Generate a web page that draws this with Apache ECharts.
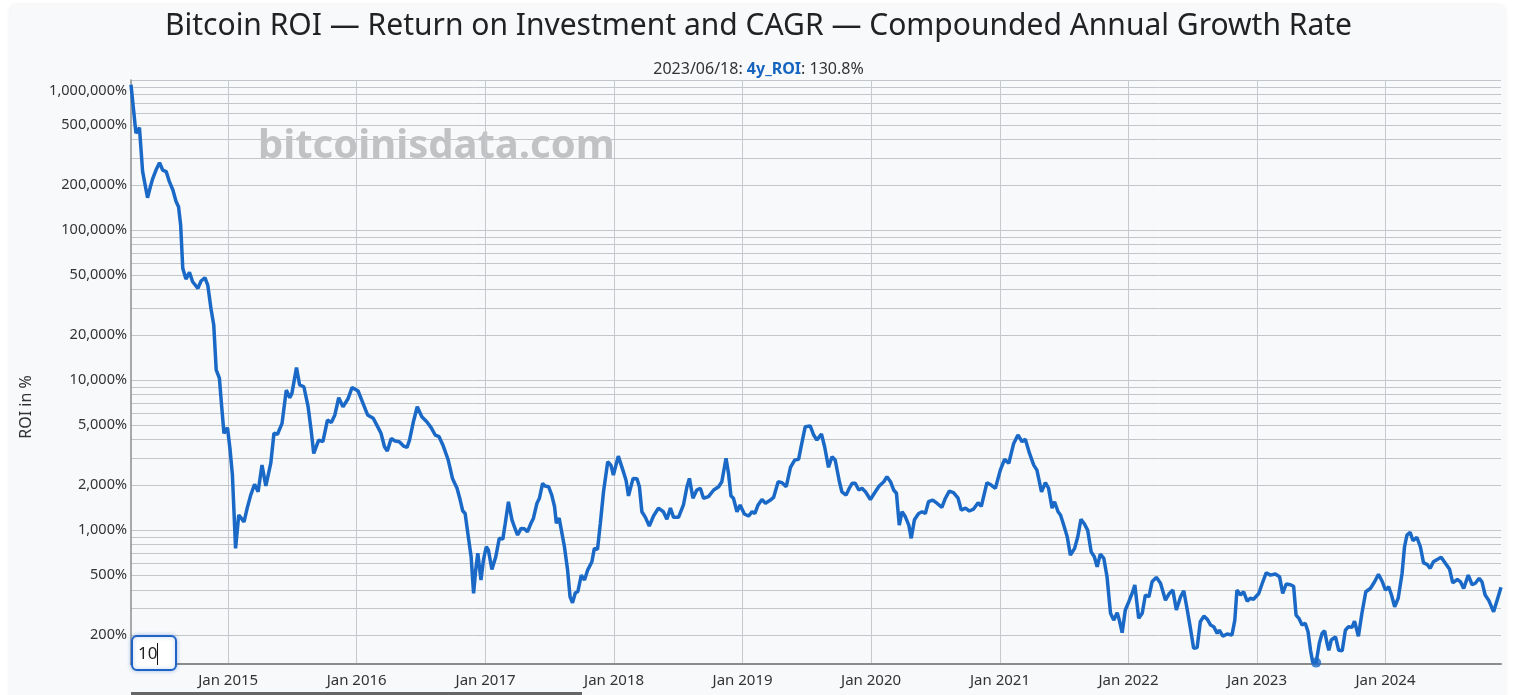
<!doctype html>
<html>
<head>
<meta charset="utf-8">
<title>Bitcoin ROI</title>
<script src="https://cdn.jsdelivr.net/npm/echarts@6/dist/echarts.min.js"></script>
<style>
html,body{margin:0;padding:0;background:#fff;}
#chart{width:1517px;height:695px;}
</style>
</head>
<body>
<div id="chart"></div>
<script>
// 4 year ROI (%)
var dates = [
'2014-03-31','2014-04-14','2014-04-24','2014-05-03','2014-05-17','2014-05-25','2014-06-01','2014-06-10','2014-06-20','2014-06-29',
'2014-07-09','2014-07-18','2014-07-28','2014-08-06','2014-08-13','2014-08-19','2014-08-25','2014-09-03','2014-09-13','2014-09-22',
'2014-10-07','2014-10-16','2014-10-27','2014-11-04','2014-11-13','2014-11-21','2014-11-28','2014-12-07','2014-12-14','2014-12-20',
'2014-12-30','2015-01-06','2015-01-13','2015-01-22','2015-01-31','2015-02-07','2015-02-15','2015-02-24','2015-03-06','2015-03-17',
'2015-03-27','2015-04-07','2015-04-18','2015-05-02','2015-05-11','2015-05-21','2015-06-03','2015-06-15','2015-06-25','2015-07-01',
'2015-07-14','2015-07-23','2015-08-04','2015-08-16','2015-08-24','2015-09-01','2015-09-15','2015-09-27','2015-10-10','2015-10-21',
'2015-10-31','2015-11-11','2015-11-23','2015-12-07','2015-12-19','2016-01-05','2016-01-19','2016-02-01','2016-02-17','2016-03-03',
'2016-03-10','2016-03-20','2016-03-28','2016-04-08','2016-04-19','2016-05-01','2016-05-13','2016-05-23','2016-05-30','2016-06-10',
'2016-06-21','2016-07-04','2016-07-18','2016-07-30','2016-08-11','2016-08-22','2016-09-03','2016-09-17','2016-09-29','2016-10-12',
'2016-10-21','2016-10-28','2016-11-04','2016-11-13','2016-11-21','2016-11-28','2016-12-04','2016-12-10','2016-12-19','2016-12-26',
'2017-01-03','2017-01-09','2017-01-19','2017-01-30','2017-02-09','2017-02-19','2017-02-26','2017-03-07','2017-03-17','2017-03-24',
'2017-04-02','2017-04-12','2017-04-21','2017-04-30','2017-05-10','2017-05-17','2017-05-27','2017-06-03','2017-06-12','2017-06-19',
'2017-06-29','2017-07-08','2017-07-16','2017-07-21','2017-07-29','2017-08-06','2017-08-13','2017-08-22','2017-08-29','2017-09-05',
'2017-09-13','2017-09-20','2017-09-30','2017-10-09','2017-10-18','2017-10-30','2017-11-06','2017-11-15','2017-11-23','2017-12-02',
'2017-12-14','2017-12-23','2017-12-30','2018-01-13','2018-01-26','2018-02-04','2018-02-11','2018-02-16','2018-02-24','2018-03-07',
'2018-03-14','2018-03-21','2018-03-31','2018-04-11','2018-04-23','2018-05-07','2018-05-21','2018-05-31','2018-06-10','2018-06-19',
'2018-07-03','2018-07-17','2018-07-27','2018-08-03','2018-08-13','2018-08-24','2018-09-03','2018-09-12','2018-09-26','2018-10-11',
'2018-10-25','2018-11-03','2018-11-15','2018-11-22','2018-11-29','2018-12-06','2018-12-16','2018-12-25','2019-01-06','2019-01-18',
'2019-01-28','2019-02-05','2019-02-14','2019-02-25','2019-03-07','2019-03-21','2019-03-30','2019-04-12','2019-04-23','2019-05-05',
'2019-05-17','2019-05-29','2019-06-09','2019-06-21','2019-06-28','2019-07-12','2019-07-22','2019-07-31','2019-08-13','2019-08-22',
'2019-09-02','2019-09-12','2019-09-21','2019-10-03','2019-10-10','2019-10-22','2019-10-31','2019-11-08','2019-11-17','2019-11-27',
'2019-12-06','2019-12-16','2019-12-30','2020-01-13','2020-01-24','2020-02-06','2020-02-15','2020-02-25','2020-03-05','2020-03-13',
'2020-03-21','2020-03-29','2020-04-07','2020-04-17','2020-04-24','2020-05-03','2020-05-15','2020-05-25','2020-06-03','2020-06-12',
'2020-06-24','2020-07-06','2020-07-20','2020-07-30','2020-08-10','2020-08-22','2020-09-04','2020-09-13','2020-09-25','2020-10-06',
'2020-10-18','2020-10-31','2020-11-09','2020-11-25','2020-12-07','2020-12-19','2021-01-02','2021-01-14','2021-01-26','2021-02-09',
'2021-02-21','2021-03-05','2021-03-14','2021-03-26','2021-04-07','2021-04-16','2021-04-29','2021-05-10','2021-05-19','2021-05-29',
'2021-06-05','2021-06-15','2021-06-22','2021-07-01','2021-07-11','2021-07-20','2021-08-01','2021-08-10','2021-08-19','2021-08-29',
'2021-09-07','2021-09-17','2021-09-26','2021-10-04','2021-10-13','2021-10-23','2021-11-01','2021-11-11','2021-11-20','2021-11-30',
'2021-12-06','2021-12-14','2021-12-23','2022-01-02','2022-01-13','2022-01-19','2022-01-30','2022-02-09','2022-02-18','2022-02-28',
'2022-03-09','2022-03-21','2022-04-02','2022-04-16','2022-04-27','2022-05-07','2022-05-17','2022-05-29','2022-06-07','2022-06-17',
'2022-06-26','2022-07-05','2022-07-15','2022-07-24','2022-08-03','2022-08-13','2022-08-22','2022-08-31','2022-09-10','2022-09-16',
'2022-09-26','2022-10-08','2022-10-22','2022-10-30','2022-11-05','2022-11-15','2022-11-24','2022-12-04','2022-12-13','2022-12-22',
'2023-01-06','2023-01-16','2023-01-27','2023-02-08','2023-02-22','2023-03-06','2023-03-15','2023-03-25','2023-04-06','2023-04-15',
'2023-04-22','2023-04-30','2023-05-09','2023-05-18','2023-05-26','2023-06-02','2023-06-08','2023-06-18','2023-06-27','2023-07-05',
'2023-07-12','2023-07-19','2023-07-24','2023-07-31','2023-08-12','2023-08-21','2023-08-31','2023-09-09','2023-09-18','2023-09-28',
'2023-10-05','2023-10-16','2023-10-26','2023-11-06','2023-11-19','2023-12-01','2023-12-12','2023-12-23','2024-01-01','2024-01-10',
'2024-01-18','2024-01-27','2024-02-06','2024-02-17','2024-02-24','2024-03-02','2024-03-11','2024-03-19','2024-03-30','2024-04-09',
'2024-04-18','2024-04-28','2024-05-07','2024-05-16','2024-05-28','2024-06-07','2024-06-19','2024-07-01','2024-07-10','2024-07-23',
'2024-08-01','2024-08-10','2024-08-23','2024-09-03','2024-09-12','2024-09-23','2024-10-01','2024-10-10','2024-10-20','2024-11-03',
'2024-11-13','2024-11-24'
];
var roi = [
930000,442000,481000,245000,164000,194000,221000,251000,281000,251000,
245000,210000,185000,155000,143000,108000,55600,47100,52200,45200,
40800,45700,48100,43000,30100,23300,11700,10300,6470,4420,
4810,3510,2330,755,1260,1200,1135,1400,1710,2020,
1800,2710,1970,2790,4420,4350,5140,8570,7620,8150,
12100,9270,9020,6640,4760,3240,3980,3880,5410,5220,
5850,7620,6640,7470,8930,8450,7000,5850,5560,4760,
4420,3590,3360,4080,3920,3880,3630,3560,3980,5270,
6640,5690,5270,4840,4300,4190,3630,2930,2210,1900,
1585,1345,1290,902,664,378,541,700,464,631,
774,736,547,664,881,870,1110,1545,1170,1050,
927,1026,1020,975,1110,1200,1510,1630,2050,1965,
1945,1710,1430,1110,1200,951,774,541,359,327,
382,388,501,464,541,615,755,743,1110,1800,
2850,2710,2330,3110,2510,2150,1690,1670,2210,2200,
1945,1325,1215,1065,1240,1400,1325,1180,1400,1215,
1215,1470,1945,2210,1630,1850,1900,1630,1670,1850,
1945,2100,3010,2390,1690,1630,1325,1470,1280,1240,
1325,1290,1470,1600,1510,1585,1650,2100,2070,1945,
2620,2930,2960,4080,4890,4940,4300,3980,4370,3590,
2620,3080,2930,2100,1800,1710,1900,2050,2050,1850,
1900,1800,1600,1800,1965,2100,2270,2100,1850,1760,
1080,1325,1230,1080,881,1170,1290,1325,1290,1545,
1585,1510,1415,1630,1820,1775,1630,1360,1400,1340,
1380,1520,1440,2070,1995,1900,2510,2960,2790,3780,
4300,3880,4030,3240,2710,2510,1800,2070,1900,1400,
1545,1325,1260,1080,902,681,755,902,1180,1096,
1000,716,664,569,692,647,489,279,251,281,
251,207,293,333,388,430,258,279,369,359,
452,484,442,341,378,398,293,359,394,293,
221,163,165,245,267,254,233,227,205,215,
196,203,200,251,398,369,388,336,351,346,
378,442,519,501,509,489,378,437,432,422,
271,258,233,239,210,158,132,130.8,176,205,
213,176,158,185,194,158,157,215,227,225,
247,196,279,388,408,452,507,452,398,419,
369,308,351,514,774,927,966,849,894,774,
605,590,556,615,638,658,600,547,445,469,
452,408,501,432,442,477,452,369,341,285,
341,415
];

// hovered point shown in the subtitle
var hoverDate = '2023-06-18';
var hoverValue = 130.8;

// y tick labels (%) and x tick labels (Jan of each year)
var yLabelValues = [200, 500, 1000, 2000, 5000, 10000, 20000, 50000, 100000, 200000, 500000, 1000000];
var xLabelDates = ['2015-01-01','2016-01-01','2017-01-01','2018-01-01','2019-01-01',
                   '2020-01-01','2021-01-01','2022-01-01','2023-01-01','2024-01-01'];

// grid lines at every 1..9 step of each decade
var yGridValues = [];
for (var dec = 100; dec < 1000000; dec *= 10) {
  for (var m = 1; m <= 9; m++) {
    if (m * dec >= 128) yGridValues.push(m * dec);
  }
}
yGridValues.push(1000000);

var FONT = '"Noto Sans", "DejaVu Sans", sans-serif';
var lineColor = '#1a69c6';

function ts(d) { return Date.parse(d); }

var seriesData = dates.map(function (d, i) { return [ts(d), roi[i]]; });
var xTicks = xLabelDates.map(ts);

var chart = echarts.init(document.getElementById('chart'));
chart.setOption({
  animation: false,
  backgroundColor: '#ffffff',
  textStyle: {fontFamily: FONT},
  title: [{
    text: 'Bitcoin ROI — Return on Investment and CAGR — Compounded Annual Growth Rate',
    left: 'center',
    top: 6,
    textStyle: {fontSize: 30, fontWeight: 'normal', color: '#222', fontFamily: FONT}
  }, {
    text: hoverDate.replace(/-/g, '/') + ': {b|4y_ROI}: ' + hoverValue + '%',
    left: 'center',
    top: 56,
    textStyle: {
      fontSize: 16, fontWeight: 'normal', color: '#333', fontFamily: FONT,
      rich: {b: {fontSize: 16, fontWeight: 'bold', color: '#1565c0', fontFamily: FONT}}
    }
  }],
  graphic: [
    {type: 'rect', z: -10, shape: {x: 10, y: 5, width: 1495, height: 720, r: 6},
     style: {fill: '#f7f9fb', shadowBlur: 4, shadowColor: 'rgba(0,0,0,0.08)'}},
    {type: 'text', z: -5, x: 258, y: 147,
     style: {text: 'bitcoinisdata.com', font: 'bold 40px ' + FONT, fill: 'rgba(140,140,140,0.5)',
              textVerticalAlign: 'middle', verticalAlign: 'middle'}},
    {type: 'text', x: 26, y: 407, rotation: Math.PI / 2,
     style: {text: 'ROI in %', font: '16px ' + FONT, fill: '#333',
             textAlign: 'center', align: 'center', textVerticalAlign: 'middle', verticalAlign: 'middle'}},
    // the small input box in the corner
    {type: 'rect', z: 100, shape: {x: 132, y: 636, width: 44, height: 34, r: 5},
     style: {fill: '#fff', stroke: '#1f63c6', lineWidth: 2, shadowBlur: 4, shadowColor: 'rgba(31,99,198,0.35)'}},
    {type: 'text', z: 101, x: 138, y: 654,
     style: {text: '10', font: '17px ' + FONT, fill: '#222', textVerticalAlign: 'middle', verticalAlign: 'middle'}},
    {type: 'line', z: 101, shape: {x1: 157.5, y1: 643, x2: 157.5, y2: 665}, style: {stroke: '#111', lineWidth: 1}},
    // scrollbar
    {type: 'rect', z: 100, shape: {x: 131, y: 692, width: 451, height: 4}, style: {fill: '#666'}}
  ],
  grid: {left: 131, right: 16, top: 80, bottom: 31, containLabel: false, outerBoundsMode: 'none'},
  xAxis: {
    type: 'value',
    min: 'dataMin',
    max: 'dataMax',
    axisLine: {show: true, lineStyle: {color: '#8c8c8c', width: 2}},
    axisTick: {show: false, customValues: xTicks},
    axisLabel: {
      customValues: xTicks,
      formatter: function (v) { return 'Jan ' + new Date(v).getUTCFullYear(); },
      fontSize: 15, color: '#333', margin: 9, fontFamily: FONT
    },
    splitLine: {show: true, lineStyle: {color: '#c6cace', width: 1}}
  },
  yAxis: {
    type: 'log',
    logBase: 10,
    min: 128,
    max: 1000000,
    axisLine: {show: true, lineStyle: {color: '#8c8c8c', width: 1.5}},
    axisTick: {show: false, customValues: yGridValues},
    axisLabel: {
      customValues: yLabelValues,
      formatter: function (v) { return Math.round(v).toLocaleString('en-US') + '%'; },
      fontSize: 14.5, color: '#333', margin: 4, fontFamily: FONT,
      verticalAlignMaxLabel: 'top', padding: [3, 0, 0, 0]
    },
    splitLine: {show: true, lineStyle: {color: '#c2c6ca', width: 1}}
  },
  series: [{
    name: '4y_ROI',
    type: 'line',
    data: seriesData,
    showSymbol: false,
    symbol: 'none',
    lineStyle: {color: lineColor, width: 3.5},
    z: 3
  }, {
    type: 'scatter',
    data: [[ts(hoverDate), hoverValue]],
    symbolSize: 10,
    itemStyle: {color: lineColor},
    z: 4
  }]
});
</script>
</body>
</html>
